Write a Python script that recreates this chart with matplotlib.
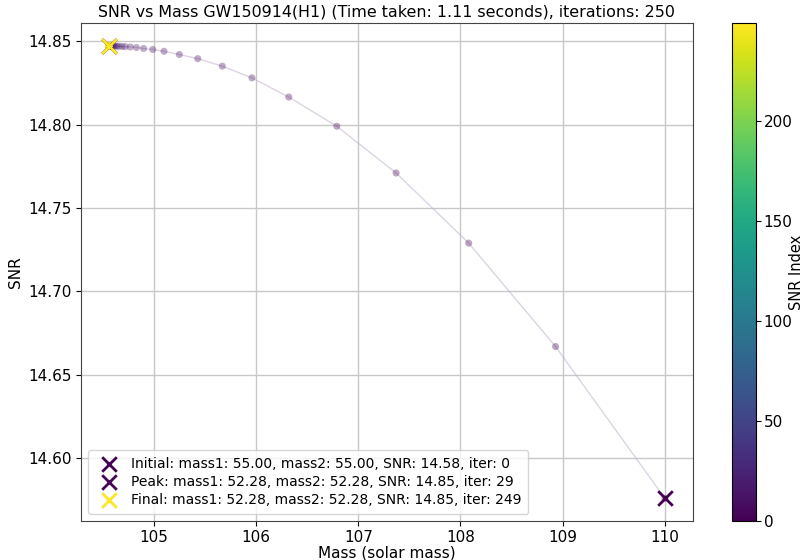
import numpy as np
import matplotlib
matplotlib.use("Agg")
import matplotlib.pyplot as plt

# Total mass (mass1 + mass2) per iteration
mass_start = [110.00, 108.93, 108.08, 107.37, 106.79, 106.32, 105.96, 105.67,
              105.43, 105.25, 105.10, 104.99, 104.90, 104.83, 104.77, 104.72,
              104.69, 104.66, 104.64, 104.62, 104.61, 104.60, 104.59, 104.58,
              104.575, 104.57, 104.567, 104.565, 104.562, 104.56]
snr_start = [14.576, 14.667, 14.729, 14.771, 14.799, 14.8165, 14.828, 14.835,
             14.8395, 14.842, 14.8439, 14.845, 14.8456, 14.8462, 14.8465, 14.8467,
             14.8468, 14.8469, 14.8470, 14.8470, 14.8471, 14.8471, 14.8471, 14.8472,
             14.8472, 14.8472, 14.8472, 14.8472, 14.8472, 14.8472]
n_iter = 250
# After the peak (iter 29) the search stays at the same point until iter 249
masses = mass_start + [104.56] * (n_iter - len(mass_start))
snrs = snr_start + [14.8472] * (n_iter - len(snr_start))
iters = list(range(n_iter))

initial_label = "Initial: mass1: 55.00, mass2: 55.00, SNR: 14.58, iter: 0"
peak_label = "Peak: mass1: 52.28, mass2: 52.28, SNR: 14.85, iter: 29"
final_label = "Final: mass1: 52.28, mass2: 52.28, SNR: 14.85, iter: 249"
peak_iter = 29
title = "SNR vs Mass GW150914(H1) (Time taken: 1.11 seconds), iterations: 250"

fig = plt.figure(figsize=(8.06, 5.6), dpi=100)
ax = fig.add_axes([0.1005, 0.0696, 0.759, 0.889])
cax = fig.add_axes([0.908, 0.0696, 0.0298, 0.889])

cmap = plt.get_cmap("viridis")
norm = matplotlib.colors.Normalize(vmin=0, vmax=n_iter - 1)

ax.plot(masses, snrs, color="#c0b0cc", alpha=0.55, linewidth=1.0, zorder=1)
sc = ax.scatter(masses, snrs, c=iters, cmap=cmap, norm=norm, s=26, alpha=0.35,
                edgecolors="none", zorder=2)

ax.scatter([masses[0]], [snrs[0]], marker="x", s=110, linewidths=2,
           color=cmap(norm(0)), label=initial_label, zorder=3)
ax.scatter([masses[peak_iter]], [snrs[peak_iter]], marker="x", s=110, linewidths=2,
           color=cmap(norm(4)), label=peak_label, zorder=3)
ax.scatter([masses[-1]], [snrs[-1]], marker="x", s=110, linewidths=2,
           color=cmap(norm(n_iter - 1)), label=final_label, zorder=3)

ax.set_title(title, fontsize=11.4, pad=5)
ax.set_xlabel("Mass (solar mass)", fontsize=11, labelpad=0)
ax.set_ylabel("SNR", fontsize=11, labelpad=4)
ax.tick_params(axis="both", labelsize=11, pad=3)
ax.set_xticks([105, 106, 107, 108, 109, 110])
ax.set_yticks([14.60, 14.65, 14.70, 14.75, 14.80, 14.85])
ax.set_yticklabels(["14.60", "14.65", "14.70", "14.75", "14.80", "14.85"])
ax.grid(True, color="#c8c8c8", linewidth=1.0)
ax.set_axisbelow(True)
for sp in ax.spines.values():
    sp.set_color("#444444")

leg = ax.legend(loc="lower left", fontsize=10, framealpha=0.8,
                handletextpad=0.6, borderpad=0.5, labelspacing=0.3)

cb = fig.colorbar(matplotlib.cm.ScalarMappable(norm=norm, cmap=cmap), cax=cax)
cb.ax.tick_params(labelsize=11, pad=2)
cb.set_ticks([0, 50, 100, 150, 200])
cb.set_label("SNR Index", fontsize=10.5)
cb.ax.yaxis.set_label_coords(2.4, 0.5)

fig.savefig("out.png", dpi=100)
